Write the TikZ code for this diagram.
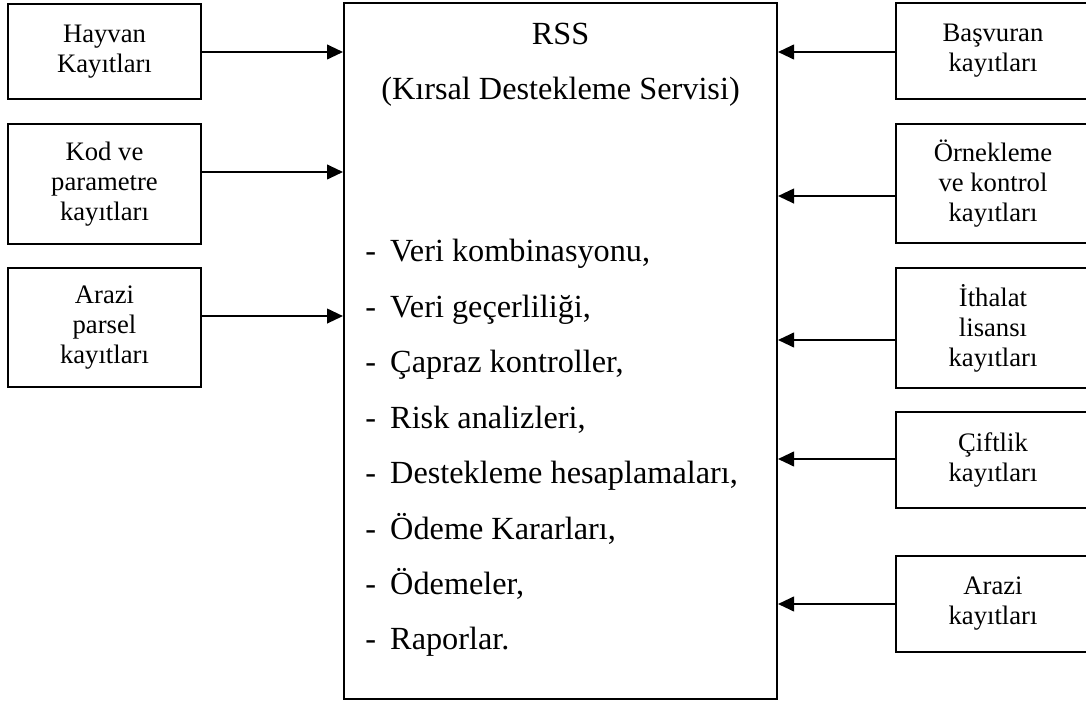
\documentclass[tikz,border=0pt]{standalone}
\usepackage{fontspec}
\setmainfont{Liberation Serif}
\usetikzlibrary{arrows.meta}
\begin{document}
\begin{tikzpicture}[x=0.75pt,y=-0.75pt,
  box/.style={draw=black,line width=1.5pt,inner sep=0pt,align=center,
    font=\fontsize{20}{22.5}\selectfont},
  leftbox/.style={box,minimum width=144.75pt},
  rightbox/.style={box,minimum width=145.5pt},
  mainbox/.style={draw=black,line width=1.5pt,minimum width=324.75pt,minimum height=522pt,inner sep=0pt},
  maintext/.style={inner sep=0pt,font=\fontsize{24.2}{28}\selectfont},
  arr/.style={line width=1.5pt,-{Triangle[length=12pt,width=11pt]}}]
\useasboundingbox (0,0) rectangle (1086,702);
\fill[white] (0,0) rectangle (1086,702);

% central service box
\node[mainbox] (main) at (560.5,351) {};
\node[maintext,anchor=base] (rss) at (560.5,45) {RSS};
\node[maintext,anchor=base] (rssname) at (560.5,100) {(Kırsal Destekleme Servisi)};
\node[maintext,anchor=base west] (it1) at (365,262) {\makebox[18.75pt][l]{-}Veri kombinasyonu,};
\node[maintext,anchor=base west] (it2) at (365,317.4) {\makebox[18.75pt][l]{-}Veri geçerliliği,};
\node[maintext,anchor=base west] (it3) at (365,372.8) {\makebox[18.75pt][l]{-}Çapraz kontroller,};
\node[maintext,anchor=base west] (it4) at (365,428.2) {\makebox[18.75pt][l]{-}Risk analizleri,};
\node[maintext,anchor=base west] (it5) at (365,483.6) {\makebox[18.75pt][l]{-}Destekleme hesaplamaları,};
\node[maintext,anchor=base west] (it6) at (365,539) {\makebox[18.75pt][l]{-}Ödeme Kararları,};
\node[maintext,anchor=base west] (it7) at (365,594.4) {\makebox[18.75pt][l]{-}Ödemeler,};
\node[maintext,anchor=base west] (it8) at (365,649.8) {\makebox[18.75pt][l]{-}Raporlar.};

% input registers on the left
\node[leftbox,minimum height=71.25pt] (l1) at (104.5,51.5) {Hayvan\\Kayıtları};
\node[leftbox,minimum height=90pt] (l2) at (104.5,184) {Kod ve\\parametre\\kayıtları};
\node[leftbox,minimum height=89.25pt] (l3) at (104.5,327.5) {Arazi\\parsel\\kayıtları};

% input registers on the right
\node[rightbox,minimum height=72pt] (r1) at (993,51) {Başvuran\\kayıtları};
\node[rightbox,minimum height=89.25pt] (r2) at (993,183.5) {Örnekleme\\ve kontrol\\kayıtları};
\node[rightbox,minimum height=90pt] (r3) at (993,328) {İthalat\\lisansı\\kayıtları};
\node[rightbox,minimum height=72pt] (r4) at (993,460) {Çiftlik\\kayıtları};
\node[rightbox,minimum height=72pt] (r5) at (993,604) {Arazi\\kayıtları};

% arrow start points
\coordinate (pl1) at ([yshift=-0.375pt]l1.east);
\coordinate (pl2) at ([yshift=9pt]l2.east);
\coordinate (pl3) at ([yshift=8.6pt]l3.east);
\coordinate (pr1) at ([yshift=-0.75pt]r1.west);
\coordinate (pr2) at ([yshift=-9.4pt]r2.west);
\coordinate (pr3) at ([yshift=-9pt]r3.west);
\coordinate (pr4) at ([yshift=0.75pt]r4.west);
\coordinate (pr5) at (r5.west);

\foreach \p in {pl1,pl2,pl3} \draw[arr] (\p) -- (\p -| main.west);
\foreach \p in {pr1,pr2,pr3,pr4,pr5} \draw[arr] (\p) -- (\p -| main.east);
\end{tikzpicture}
\end{document}
